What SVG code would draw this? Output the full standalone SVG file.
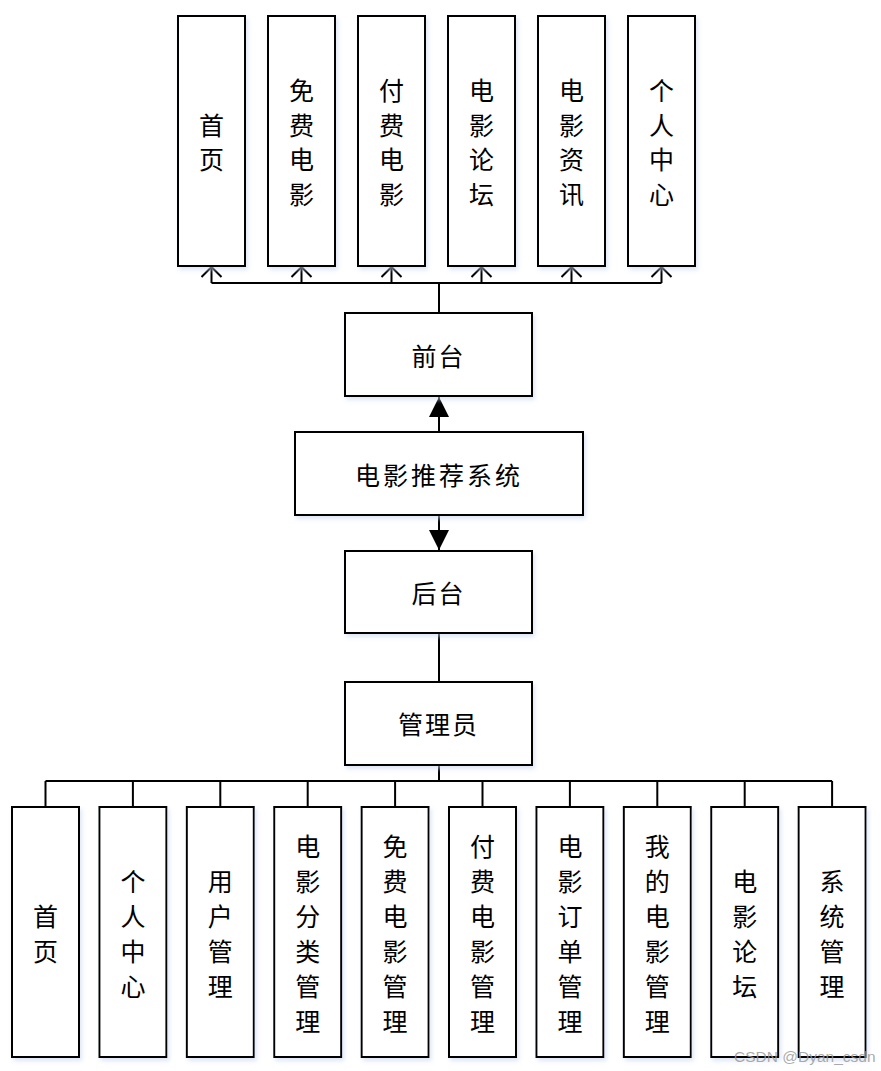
<svg xmlns="http://www.w3.org/2000/svg" width="881" height="1071" viewBox="0 0 881 1071">
<style>
.box{fill:#ffffff;stroke:#000;stroke-width:2;filter:url(#sh)}
.t{font-family:"Noto Sans CJK SC","Noto Sans",sans-serif;font-size:25px;fill:#000;text-anchor:middle;dominant-baseline:central}
.ln{fill:none;stroke:#000;stroke-width:2}
.wm{font-family:"Liberation Sans",Arial,sans-serif;font-size:15.5px;fill:#9a9a9a;fill-opacity:0.85}
</style>
<defs>
<filter id="sh" x="-20%" y="-20%" width="140%" height="140%">
<feDropShadow dx="2" dy="3" stdDeviation="2" flood-color="#c9d6ee" flood-opacity="0.6"/>
</filter>
<marker id="open" markerWidth="14" markerHeight="24" refX="11" refY="11" orient="auto" markerUnits="userSpaceOnUse" viewBox="0 0 14 24">
<path d="M1,1 L11,11 L1,21" fill="none" stroke="#000" stroke-width="2"/>
</marker>
<marker id="fill" markerWidth="20" markerHeight="20" refX="20" refY="10" orient="auto" markerUnits="userSpaceOnUse" viewBox="0 0 20 20">
<path d="M0,0 L20,10 L0,20 Z" fill="#000"/>
</marker>
</defs>

<g id="connectors">
<path class="ln" d="M439,313 V283"/>
<path class="ln" d="M211.5,283 H661.5"/>
<path class="ln" d="M211.5,283 V267" marker-end="url(#open)"/>
<path class="ln" d="M301.5,283 V267" marker-end="url(#open)"/>
<path class="ln" d="M391.5,283 V267" marker-end="url(#open)"/>
<path class="ln" d="M481.5,283 V267" marker-end="url(#open)"/>
<path class="ln" d="M571.5,283 V267" marker-end="url(#open)"/>
<path class="ln" d="M661.5,283 V267" marker-end="url(#open)"/>
<path class="ln" d="M439,432 V397" marker-end="url(#fill)"/>
<path class="ln" d="M439,515 V550" marker-end="url(#fill)"/>
<path class="ln" d="M439,633 V682"/>
<path class="ln" d="M439,765 V781"/>
<path class="ln" d="M45.5,781 H832.1"/>
<path class="ln" d="M45.5,781 V807 M132.9,781 V807 M220.3,781 V807 M307.7,781 V807 M395.1,781 V807 M482.5,781 V807 M569.9,781 V807 M657.3,781 V807 M744.7,781 V807 M832.1,781 V807"/>
</g>

<g id="top-home"><rect class="box" x="178" y="16" width="67" height="250"/>
<text class="t"><tspan x="211.5" y="123.75">首</tspan><tspan x="211.5" y="158.25">页</tspan></text></g>
<g id="top-free"><rect class="box" x="268" y="16" width="67" height="250"/>
<text class="t"><tspan x="301.5" y="89.25">免</tspan><tspan x="301.5" y="123.75">费</tspan><tspan x="301.5" y="158.25">电</tspan><tspan x="301.5" y="192.75">影</tspan></text></g>
<g id="top-paid"><rect class="box" x="358" y="16" width="67" height="250"/>
<text class="t"><tspan x="391.5" y="89.25">付</tspan><tspan x="391.5" y="123.75">费</tspan><tspan x="391.5" y="158.25">电</tspan><tspan x="391.5" y="192.75">影</tspan></text></g>
<g id="top-forum"><rect class="box" x="448" y="16" width="67" height="250"/>
<text class="t"><tspan x="481.5" y="89.25">电</tspan><tspan x="481.5" y="123.75">影</tspan><tspan x="481.5" y="158.25">论</tspan><tspan x="481.5" y="192.75">坛</tspan></text></g>
<g id="top-news"><rect class="box" x="538" y="16" width="67" height="250"/>
<text class="t"><tspan x="571.5" y="89.25">电</tspan><tspan x="571.5" y="123.75">影</tspan><tspan x="571.5" y="158.25">资</tspan><tspan x="571.5" y="192.75">讯</tspan></text></g>
<g id="top-personal"><rect class="box" x="628" y="16" width="67" height="250"/>
<text class="t"><tspan x="661.5" y="89.25">个</tspan><tspan x="661.5" y="123.75">人</tspan><tspan x="661.5" y="158.25">中</tspan><tspan x="661.5" y="192.75">心</tspan></text></g>

<g id="frontend"><rect class="box" x="345" y="313" width="187" height="83"/>
<text class="t" x="438.5" y="355" letter-spacing="2">前台</text></g>
<g id="system"><rect class="box" x="295" y="432" width="288" height="83"/>
<text class="t" x="439" y="474" letter-spacing="3">电影推荐系统</text></g>
<g id="backend"><rect class="box" x="345" y="551" width="187" height="82"/>
<text class="t" x="438.5" y="592" letter-spacing="2">后台</text></g>
<g id="admin"><rect class="box" x="345" y="682" width="187" height="83"/>
<text class="t" x="438.5" y="723" letter-spacing="2">管理员</text></g>

<g id="b-home"><rect class="box" x="12" y="807" width="67" height="250"/>
<text class="t"><tspan x="45.5" y="914.5">首</tspan><tspan x="45.5" y="949.5">页</tspan></text></g>
<g id="b-personal"><rect class="box" x="99.4" y="807" width="67" height="250"/>
<text class="t"><tspan x="132.9" y="879.5">个</tspan><tspan x="132.9" y="914.5">人</tspan><tspan x="132.9" y="949.5">中</tspan><tspan x="132.9" y="984.5">心</tspan></text></g>
<g id="b-user"><rect class="box" x="186.8" y="807" width="67" height="250"/>
<text class="t"><tspan x="220.3" y="879.5">用</tspan><tspan x="220.3" y="914.5">户</tspan><tspan x="220.3" y="949.5">管</tspan><tspan x="220.3" y="984.5">理</tspan></text></g>
<g id="b-category"><rect class="box" x="274.2" y="807" width="67" height="250"/>
<text class="t"><tspan x="307.7" y="844.5">电</tspan><tspan x="307.7" y="879.5">影</tspan><tspan x="307.7" y="914.5">分</tspan><tspan x="307.7" y="949.5">类</tspan><tspan x="307.7" y="984.5">管</tspan><tspan x="307.7" y="1019.5">理</tspan></text></g>
<g id="b-free"><rect class="box" x="361.6" y="807" width="67" height="250"/>
<text class="t"><tspan x="395.1" y="844.5">免</tspan><tspan x="395.1" y="879.5">费</tspan><tspan x="395.1" y="914.5">电</tspan><tspan x="395.1" y="949.5">影</tspan><tspan x="395.1" y="984.5">管</tspan><tspan x="395.1" y="1019.5">理</tspan></text></g>
<g id="b-paid"><rect class="box" x="449" y="807" width="67" height="250"/>
<text class="t"><tspan x="482.5" y="844.5">付</tspan><tspan x="482.5" y="879.5">费</tspan><tspan x="482.5" y="914.5">电</tspan><tspan x="482.5" y="949.5">影</tspan><tspan x="482.5" y="984.5">管</tspan><tspan x="482.5" y="1019.5">理</tspan></text></g>
<g id="b-order"><rect class="box" x="536.4" y="807" width="67" height="250"/>
<text class="t"><tspan x="569.9" y="844.5">电</tspan><tspan x="569.9" y="879.5">影</tspan><tspan x="569.9" y="914.5">订</tspan><tspan x="569.9" y="949.5">单</tspan><tspan x="569.9" y="984.5">管</tspan><tspan x="569.9" y="1019.5">理</tspan></text></g>
<g id="b-mine"><rect class="box" x="623.8" y="807" width="67" height="250"/>
<text class="t"><tspan x="657.3" y="844.5">我</tspan><tspan x="657.3" y="879.5">的</tspan><tspan x="657.3" y="914.5">电</tspan><tspan x="657.3" y="949.5">影</tspan><tspan x="657.3" y="984.5">管</tspan><tspan x="657.3" y="1019.5">理</tspan></text></g>
<g id="b-forum"><rect class="box" x="711.2" y="807" width="67" height="250"/>
<text class="t"><tspan x="744.7" y="879.5">电</tspan><tspan x="744.7" y="914.5">影</tspan><tspan x="744.7" y="949.5">论</tspan><tspan x="744.7" y="984.5">坛</tspan></text></g>
<g id="b-system"><rect class="box" x="798.6" y="807" width="67" height="250"/>
<text class="t"><tspan x="832.1" y="879.5">系</tspan><tspan x="832.1" y="914.5">统</tspan><tspan x="832.1" y="949.5">管</tspan><tspan x="832.1" y="984.5">理</tspan></text></g>

<text class="wm" x="734" y="1062">CSDN @Dyan_csdn</text>
</svg>
